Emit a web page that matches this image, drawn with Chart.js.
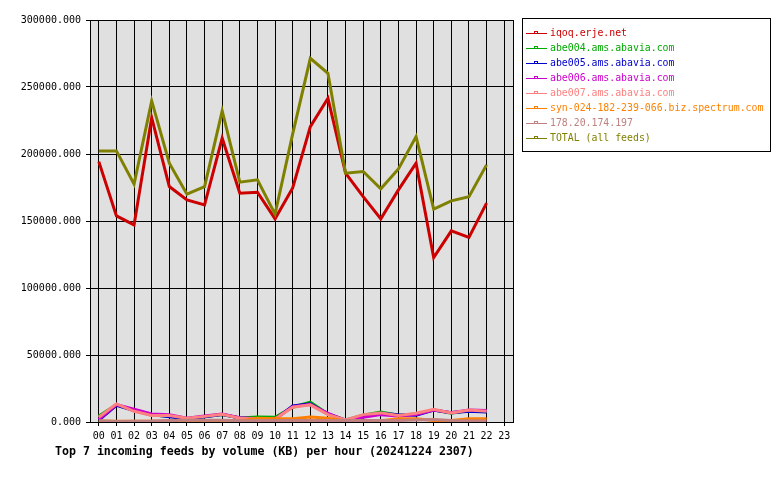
<!DOCTYPE html>
<html><head><meta charset="utf-8">
<script src="https://cdn.jsdelivr.net/npm/chart.js@4/dist/chart.umd.min.js"></script>
<style>html,body{margin:0;padding:0;background:#fff}#wrap{width:780px;height:480px;position:relative}</style>
</head><body><div id="wrap"><canvas id="c" width="780" height="480"></canvas></div>
<script>
const hours = ["00","01","02","03","04","05","06","07","08","09","10","11","12","13","14","15","16","17","18","19","20","21","22","23"];
const iqoq   = [194300,153800,147100,227100,175700,165800,162000,211800,170800,171500,151600,174600,220400,241600,185700,168200,151600,173200,193100,122700,142600,137700,163300,null];
const abe004 = [4500,13000,8500,5000,4500,2500,4000,5500,3000,3800,3500,11000,14800,6000,1500,5000,7500,5000,6000,9000,6500,8500,8000,null];
const abe005 = [1500,12500,8500,5500,4000,2500,4000,5500,3000,2500,2000,12000,13500,6000,1200,4500,6500,5500,5000,9000,7000,8000,7500,null];
const abe006 = [2000,13000,9500,6000,5500,2800,4500,6000,3200,2500,2200,11500,13000,6500,1200,3500,5500,4500,5500,9000,7000,9000,8500,null];
const abe007 = [3500,13500,8000,4800,4800,2800,4200,5800,2800,2200,2200,11000,12800,5500,1500,5500,6800,4800,6500,9500,6800,9000,8000,null];
const syn024 = [800,500,500,500,500,500,600,500,800,2800,2500,2500,3800,2800,800,700,1000,2500,2500,1200,1200,2500,2500,null];
const ip178  = [1000,400,600,700,1200,1300,1300,1300,1000,1200,1200,1200,1200,1200,1200,1200,1200,1200,1500,1800,1200,1000,800,null];
const total  = [202300,202300,177500,239600,193100,170000,175700,232100,179000,180700,155100,215000,271400,260200,185700,186900,174000,188900,213000,158800,165000,168200,191900,null];
const yTicks = [0,50000,100000,150000,200000,250000,300000];
const titleText = "Top 7 incoming feeds by volume (KB) per hour (20241224 2307)";

const series = [
  {label:"iqoq.erje.net", data:iqoq, color:"#cc0000", order:7},
  {label:"abe004.ams.abavia.com", data:abe004, color:"#00aa00", order:6},
  {label:"abe005.ams.abavia.com", data:abe005, color:"#0000cc", order:5},
  {label:"abe006.ams.abavia.com", data:abe006, color:"#cc00cc", order:4},
  {label:"abe007.ams.abavia.com", data:abe007, color:"#ff8080", order:3},
  {label:"syn-024-182-239-066.biz.spectrum.com", data:syn024, color:"#ff8000", order:2},
  {label:"178.20.174.197", data:ip178, color:"#c08080", order:1},
  {label:"TOTAL (all feeds)", data:total, color:"#808000", order:0}
];

const MONO = "'DejaVu Sans Mono', 'Liberation Mono', monospace";

const bgPlugin = {
  id:'bg',
  beforeDraw(chart){
    const {ctx, chartArea:a} = chart;
    ctx.save();
    ctx.fillStyle = '#e0e0e0';
    ctx.fillRect(a.left, a.top, a.right-a.left, a.bottom-a.top);
    ctx.restore();
  },
  afterDraw(chart){
    const {ctx, chartArea:a} = chart;
    ctx.save();
    ctx.strokeStyle = '#000';
    ctx.lineWidth = 1;
    ctx.strokeRect(Math.round(a.left)+0.5, Math.round(a.top)+0.5, Math.round(a.right-a.left), Math.round(a.bottom-a.top));
    // title
    ctx.fillStyle = '#000';
    ctx.font = "bold 11.6px " + MONO;
    ctx.textBaseline = 'middle';
    ctx.textAlign = 'left';
    ctx.fillText(titleText, 55, 452);
    // legend
    const lx = 522, ly = 18, lw = 248, lh = 133;
    ctx.fillStyle = '#fff';
    ctx.fillRect(lx, ly, lw, lh);
    ctx.strokeStyle = '#000';
    ctx.strokeRect(lx+0.5, ly+0.5, lw, lh);
    ctx.font = "9.85px " + MONO;
    series.forEach((s,i)=>{
      const y = 33 + i*15;
      ctx.fillStyle = s.color;
      ctx.fillRect(526, y, 21, 1);
      ctx.fillRect(534, y-2, 4, 1);
      ctx.fillRect(534, y-2, 1, 2);
      ctx.fillRect(537, y-2, 1, 2);
      ctx.fillText(s.label, 550, y);
    });
    ctx.restore();
  }
};

new Chart(document.getElementById('c'), {
  type:'line',
  data:{
    labels:hours,
    datasets:series.map(s=>({label:s.label, data:s.data, borderColor:s.color, backgroundColor:s.color,
      borderWidth:3, pointRadius:0, tension:0, fill:false, order:s.order, spanGaps:false}))
  },
  options:{
    responsive:false, animation:false, events:[],
    layout:{padding:{top:20, right:267, bottom:0, left:0}},
    plugins:{legend:{display:false}, tooltip:{enabled:false}, title:{display:false}},
    scales:{
      x:{
        type:'category', offset:true,
        grid:{color:'#000', lineWidth:1, offset:false, drawTicks:true, tickLength:4, tickColor:'#000'},
        border:{display:false},
        ticks:{color:'#000', font:{family:MONO, size:10}, maxRotation:0, autoSkip:false, padding:4},
        afterFit(s){ s.height = 58; }
      },
      y:{
        min:0, max:300000,
        afterBuildTicks(s){ s.ticks = yTicks.map(v=>({value:v})); },
        grid:{color:'#000', lineWidth:1, drawTicks:true, tickLength:4, tickColor:'#000'},
        border:{display:false},
        ticks:{color:'#000', font:{family:MONO, size:10}, padding:5, callback:v=>Number(v).toFixed(3)},
        afterFit(s){ s.width = 90; }
      }
    }
  },
  plugins:[bgPlugin]
});
</script></body></html>
